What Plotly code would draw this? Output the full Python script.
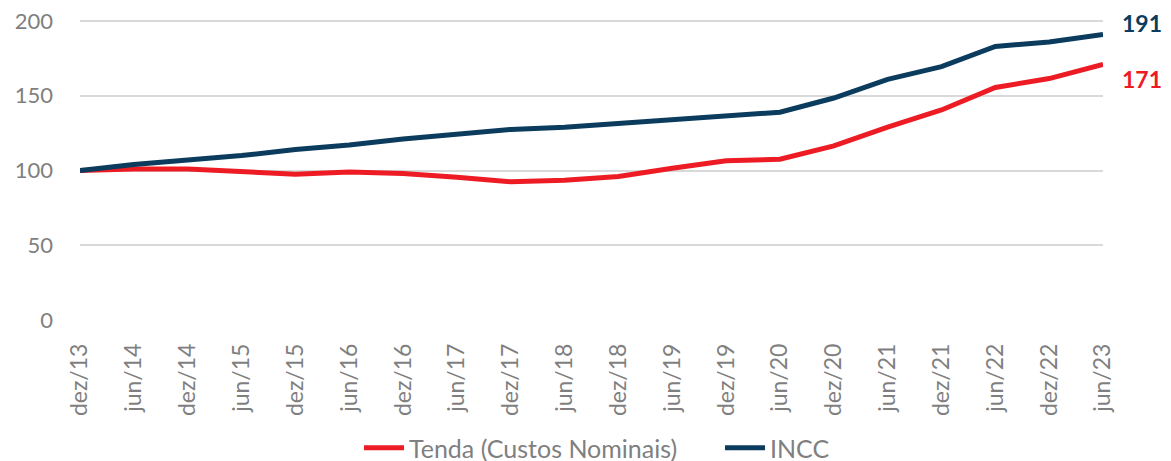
import plotly.graph_objects as go

categories = ["dez/13", "jun/14", "dez/14", "jun/15", "dez/15", "jun/16", "dez/16", "jun/17",
              "dez/17", "jun/18", "dez/18", "jun/19", "dez/19", "jun/20", "dez/20", "jun/21",
              "dez/21", "jun/22", "dez/22", "jun/23"]
tenda = [100, 101, 101, 99, 97.5, 99, 98, 95.5, 92.5, 93.5, 96, 101.5, 106.5, 107.5,
         116.5, 129, 140.5, 155.5, 161.5, 171]
incc = [100, 104, 107, 110, 114, 117, 121, 124, 127.5, 129, 131.5, 133.5, 136.5, 139,
        148.5, 161, 169.5, 183, 186, 191]
y_ticks = [0, 50, 100, 150, 200]

RED = "#ED1C24"
NAVY = "#0B3C5D"
GRAY = "#7F7F7F"
FONT = "Lato"

# the page body adds an 8px margin, so the figure is sized to fit the window
W, H = 1163, 453

fig = go.Figure()
fig.add_trace(go.Scatter(x=categories, y=tenda, mode="lines", name="Tenda (Custos Nominais)",
                         line=dict(color=RED, width=5)))
fig.add_trace(go.Scatter(x=categories, y=incc, mode="lines", name="INCC",
                         line=dict(color=NAVY, width=5)))

fig.add_annotation(x=categories[-1], y=incc[-1], text=f"<b>{incc[-1]:.0f}</b>", showarrow=False,
                   xanchor="left", yanchor="middle", xshift=17, yshift=11,
                   font=dict(family=FONT, size=23, color=NAVY))
fig.add_annotation(x=categories[-1], y=tenda[-1], text=f"<b>{tenda[-1]:.0f}</b>", showarrow=False,
                   xanchor="left", yanchor="middle", xshift=17, yshift=-15,
                   font=dict(family=FONT, size=23, color=RED))

fig.update_layout(
    width=W, height=H,
    margin=dict(l=72, r=68, t=10, b=141, autoexpand=False),
    paper_bgcolor="white", plot_bgcolor="white",
    font=dict(family=FONT, size=22, color=GRAY),
    showlegend=True,
    legend=dict(orientation="h", x=(369 - 8 - 10) / W, xanchor="left", xref="container",
                y=1 - 440 / H, yanchor="middle", yref="container",
                font=dict(family=FONT, size=25, color=GRAY), itemwidth=40,
                entrywidth=306, entrywidthmode="pixels"),
    xaxis=dict(type="category", range=[0, len(categories) - 1], tickangle=-90,
               showgrid=False, zeroline=False, showline=False, ticks="", automargin=False,
               ticklabelstandoff=18, tickfont=dict(family=FONT, size=23, color=GRAY)),
    yaxis=dict(range=[0, 202], tickvals=y_ticks, showgrid=True, gridcolor="#D9D9D9",
               gridwidth=1.5, zeroline=False, showline=False, ticks="", automargin=False,
               ticklabeloverflow="allow",
               ticklabelstandoff=26, tickfont=dict(family=FONT, size=22, color=GRAY)),
)

fig.write_html("out.html")
